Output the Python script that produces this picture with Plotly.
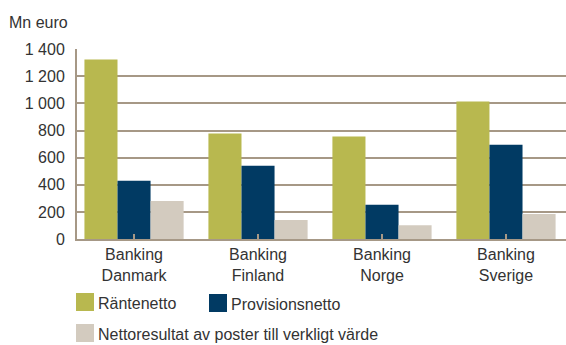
import plotly.graph_objects as go

# Segment results per banking area (Mn euro)
categories = ["Banking<br>Danmark", "Banking<br>Finland", "Banking<br>Norge", "Banking<br>Sverige"]
series_names = ["Räntenetto", "Provisionsnetto", "Nettoresultat av poster till verkligt värde"]
rantenetto = [1325, 778, 756, 1015]
provisionsnetto = [430, 540, 252, 695]
nettoresultat = [280, 140, 102, 185]
y_tickvals = [0, 200, 400, 600, 800, 1000, 1200, 1400]
y_ticktext = ["0", "200", "400", "600", "800", "1 000", "1 200", "1 400"]

colors = ["#b8b84f", "#013a63", "#d3cbbf"]
grid = "#a69886"
text_color = "#333333"
font_family = "Liberation Sans, Arial, sans-serif"
fs = 16

W, H = 566, 345
L, R, T, B = 77, 0, 49, 106

fig = go.Figure()
x_idx = list(range(len(categories)))
for name, vals, col in zip(series_names, [rantenetto, provisionsnetto, nettoresultat], colors):
    fig.add_trace(go.Bar(x=x_idx, y=vals, name=name, marker=dict(color=col, line=dict(width=0)),
                         showlegend=False))

# Legend drawn as swatches + labels below the plot
pw, ph = W - L - R, H - T - B


def px_x(px):
    return (px - L) / pw


def px_y(py):
    return (H - B - py) / ph


legend_items = [
    (series_names[0], colors[0], 76, 293),
    (series_names[1], colors[1], 209, 294),
    (series_names[2], colors[2], 76, 324),
]
shapes = []
annotations = []
for name, col, sx, sy in legend_items:
    shapes.append(dict(type="rect", xref="paper", yref="paper",
                       x0=px_x(sx), x1=px_x(sx + 18), y0=px_y(sy + 18), y1=px_y(sy),
                       fillcolor=col, line=dict(width=0)))
    annotations.append(dict(text=name, xref="paper", yref="paper", x=px_x(sx + 20), y=px_y(sy + 10),
                            xanchor="left", yanchor="middle", showarrow=False,
                            font=dict(size=fs, color=text_color, family=font_family)))

annotations.append(dict(text="Mn euro", xref="paper", yref="paper", x=px_x(7), y=px_y(22),
                        xanchor="left", yanchor="middle", showarrow=False,
                        font=dict(size=fs, color=text_color, family=font_family)))

fig.update_layout(
    width=W, height=H,
    margin=dict(l=L, r=R, t=T, b=B, pad=0),
    paper_bgcolor="white", plot_bgcolor="white",
    barmode="group", bargap=0.2, bargroupgap=0,
    font=dict(family=font_family, size=fs, color=text_color),
    shapes=shapes, annotations=annotations,
    xaxis=dict(
        range=[-0.46, 3.484], tickmode="array", tickvals=x_idx, ticktext=categories,
        tickson="boundaries", ticks="inside", ticklen=5, tickwidth=2, tickcolor=grid,
        showline=True, linecolor=grid, linewidth=2, showgrid=False, zeroline=False,
        tickfont=dict(size=fs, color=text_color), fixedrange=True,
    ),
    yaxis=dict(
        range=[0, 1402], tickmode="array", tickvals=y_tickvals, ticktext=y_ticktext,
        showgrid=True, gridcolor=grid, gridwidth=2, zeroline=False,
        showline=True, linecolor=grid, linewidth=2, ticks="", ticklabelstandoff=7,
        tickfont=dict(size=fs, color=text_color), fixedrange=True,
    ),
)

fig.write_html("out.html", config={"displayModeBar": False})
